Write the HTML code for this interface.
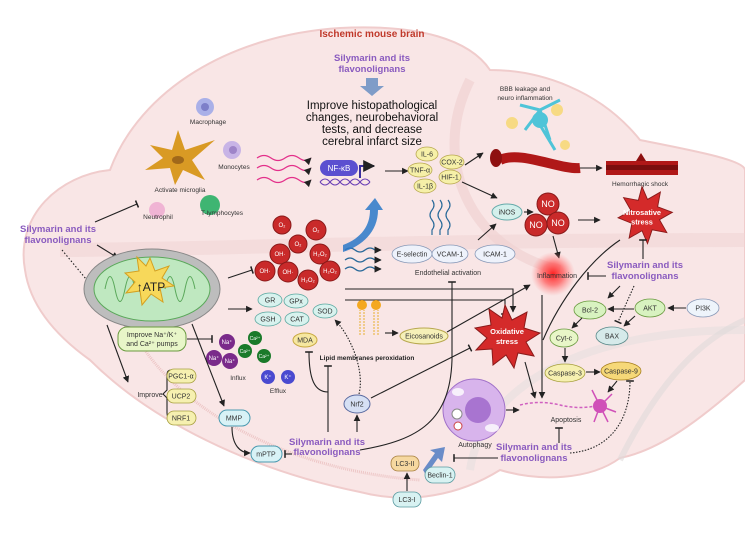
<!DOCTYPE html>
<html><head><meta charset="utf-8"><style>
body{margin:0;background:#fff}
svg{display:block}
text{font-family:"Liberation Sans",sans-serif}
.s{font-size:6.5px;fill:#333;text-anchor:middle}
.p{font-size:9.5px;fill:#8a5bbf;font-weight:bold;text-anchor:middle}
.n{font-size:7px;fill:#333;text-anchor:middle}
.w{font-size:6px;fill:#fff;text-anchor:middle}
.ln{stroke:#222;stroke-width:1.1;fill:none}
</style></head><body>
<svg width="745" height="542" viewBox="0 0 745 542" xmlns="http://www.w3.org/2000/svg">
<defs>
<marker id="a" viewBox="0 0 10 10" refX="9" refY="5" markerWidth="6" markerHeight="6" orient="auto"><path d="M0,0L10,5L0,10z" fill="#222"/></marker>
<marker id="t" viewBox="0 0 10 10" refX="5" refY="5" markerWidth="7" markerHeight="7" orient="auto"><path d="M5,0V10" stroke="#222" stroke-width="2"/></marker>
<radialGradient id="g"><stop offset="0" stop-color="#ff2020"/><stop offset="0.5" stop-color="#ff5050" stop-opacity="0.7"/><stop offset="1" stop-color="#ff8080" stop-opacity="0"/></radialGradient>
</defs>
<!-- brain -->
<path d="M25,270 C15,215 60,175 110,170 C140,90 230,35 340,28 C420,24 470,40 490,70 C540,70 600,90 640,140 C690,150 745,160 745,170 L745,380 C700,420 660,450 620,458 C590,480 540,482 500,470 C460,495 410,505 360,492 C250,470 150,420 90,360 C55,335 30,305 25,270Z" fill="#f9e6e6" stroke="#f0cccc" stroke-width="2"/>
<path d="M470,80 C430,160 470,250 560,270" stroke="#efcfcf" stroke-width="10" fill="none" opacity="0.6"/>
<path d="M60,250 C200,250 400,240 745,240" stroke="#f0d2d2" stroke-width="14" fill="none" opacity="0.5"/>
<path d="M470,470 C480,400 560,330 745,330" stroke="#e6e0e0" stroke-width="8" fill="none" opacity="0.6"/>
<path d="M620,460 C660,380 700,340 745,320" stroke="#e0dada" stroke-width="6" fill="none" opacity="0.6"/>
<path d="M120,300 C150,400 280,470 420,480" stroke="#edc6c6" stroke-width="3" fill="none" stroke-dasharray="1 1"/>

<text x="372" y="37" font-size="10" font-weight="bold" fill="#c0392b" text-anchor="middle">Ischemic mouse brain</text>
<text class="p" x="372" y="61">Silymarin and its</text><text class="p" x="372" y="72">flavonolignans</text>
<path d="M366,78h12v8h6l-12,10l-12,-10h6z" fill="#7f9cc8"/>
<g font-size="11.5" fill="#111" text-anchor="middle"><text x="372" y="109">Improve histopathological</text><text x="372" y="121">changes, neurobehavioral</text><text x="372" y="133">tests, and decrease</text><text x="372" y="145">cerebral infarct size</text></g>

<!-- immune cells -->
<circle cx="205" cy="107" r="9" fill="#aab0e8"/><circle cx="205" cy="107" r="4" fill="#7d7fc9"/>
<text class="s" x="208" y="124">Macrophage</text>
<path d="M178,130 L185,150 L215,140 L192,160 L205,180 L183,170 L175,185 L170,168 L145,170 L163,158 L150,145 L172,150z" fill="#d99a24"/>
<ellipse cx="178" cy="160" rx="6" ry="4" fill="#a0681a"/>
<text class="s" x="180" y="192">Activate microglia</text>
<circle cx="232" cy="150" r="9" fill="#c8b4e6"/><circle cx="233" cy="150" r="4" fill="#9e84c8"/>
<text class="s" x="234" y="169">Monocytes</text>
<circle cx="157" cy="210" r="8" fill="#f0b4d4"/>
<text class="s" x="158" y="219">Neutrophil</text>
<circle cx="210" cy="205" r="10" fill="#3fb572"/>
<text class="s" x="222" y="215">T-lymphocytes</text>

<text class="p" x="58" y="232">Silymarin and its</text><text class="p" x="58" y="243">flavonolignans</text>
<line class="ln" x1="95" y1="222" x2="137" y2="204" marker-end="url(#t)"/>
<line class="ln" x1="97" y1="245" x2="118" y2="258" marker-end="url(#a)"/>
<line class="ln" x1="62" y1="250" x2="125" y2="326" stroke-dasharray="1.5 2" marker-end="url(#a)"/>

<!-- mito -->
<ellipse cx="152" cy="289" rx="68" ry="40" fill="#bdbdbd" stroke="#888"/>
<ellipse cx="152" cy="289" rx="58" ry="32" fill="#bfe8c0" stroke="#5aa85a"/>
<path d="M105,289 q5,-25 10,0 q5,25 10,0 q5,-25 10,0 M165,289 q5,-25 10,0 q5,25 10,0 q5,-25 10,0" stroke="#5aa85a" fill="none"/>
<path d="M150,258 l5,13 14,-5 -7,12 12,8 -14,2 3,14 -12,-8 -9,11 -2,-14 -14,2 9,-11 -10,-9 14,-2 -2,-14 9,9z" fill="#f7d85a" stroke="#d4a020"/>
<text x="151" y="291" font-size="12" fill="#222" text-anchor="middle">↑ATP</text>

<!-- NF-kB -->
<g stroke="#e3308a" stroke-width="1.2" fill="none" marker-end="url(#a)">
<path d="M257,158 q7,-5 14,0 t14,0 t14,0 t12,0"/><path d="M257,168 q7,-5 14,0 t14,0 t14,0 t12,0"/><path d="M257,180 q7,-5 14,0 t14,0 t14,0 t12,0"/></g>
<rect x="320" y="160" width="38" height="16" rx="8" fill="#5b4fd0"/>
<text x="339" y="171" font-size="8" fill="#fff" text-anchor="middle">NF-κB</text>
<path d="M320,182 q5,-6 10,0 t10,0 t10,0 t10,0 t10,0 M320,182 q5,6 10,0 t10,0 t10,0 t10,0 t10,0" stroke="#6a3fb5" fill="none"/>
<path d="M360,178 v-12 h14" stroke="#3a2ea0" stroke-width="2" fill="none" marker-end="url(#a)"/>
<line class="ln" x1="385" y1="171" x2="408" y2="171" marker-end="url(#a)"/>
<g fill="#f6f0a8" stroke="#b8a850" stroke-width="0.8">
<ellipse cx="427" cy="154" rx="11" ry="7"/><ellipse cx="420" cy="170" rx="12" ry="7"/><ellipse cx="425" cy="186" rx="11" ry="7"/><ellipse cx="452" cy="162" rx="12" ry="7"/><ellipse cx="450" cy="177" rx="11" ry="7"/></g>
<g class="n"><text x="427" y="156.5">IL-6</text><text x="420" y="172.5">TNF-α</text><text x="425" y="188.5">IL-1β</text><text x="452" y="164.5">COX-2</text><text x="450" y="179.5">HIF-1</text></g>
<line class="ln" x1="465" y1="165" x2="483" y2="153" marker-end="url(#a)"/>
<line class="ln" x1="462" y1="182" x2="497" y2="198" marker-end="url(#a)"/>

<!-- BBB -->
<text class="s" x="525" y="91">BBB leakage and</text><text class="s" x="525" y="100">neuro inflammation</text>
<path d="M500,160 C520,150 560,170 580,168" stroke="#b01818" stroke-width="10" fill="none"/>
<ellipse cx="496" cy="158" rx="6" ry="9" fill="#8e1010"/>
<path d="M540,110 l-15,20 M540,110 l20,-10 M540,110 l10,30 M540,110 l-20,-5 M540,125 l15,25" stroke="#4fc4d8" stroke-width="3" fill="none"/>
<circle cx="540" cy="120" r="8" fill="#4fc4d8"/>
<circle cx="512" cy="123" r="6" fill="#f6d45a" opacity="0.7"/><circle cx="557" cy="110" r="6" fill="#f6d45a" opacity="0.7"/><circle cx="565" cy="145" r="5" fill="#f6d45a" opacity="0.7"/>
<line class="ln" x1="580" y1="168" x2="602" y2="168" marker-end="url(#a)"/>
<rect x="606" y="161" width="72" height="14" fill="#b01818"/><rect x="606" y="165" width="72" height="5" fill="#7a0e0e"/>
<path d="M636,161 l5,-8 5,8z" fill="#8e1010"/>
<text class="s" x="640" y="186">Hemorrhagic shock</text>

<!-- iNOS / NO -->
<g stroke="#2a6a9a" stroke-width="1.2" fill="none"><path d="M432,200 q4,5 0,10 t0,10 t0,10 v5"/><path d="M440,200 q4,5 0,10 t0,10 t0,10 v5"/><path d="M448,200 q4,5 0,10 t0,10 t0,10 v5"/></g>
<ellipse cx="507" cy="212" rx="15" ry="8" fill="#d4f0ec" stroke="#6aa"/><text class="n" x="507" y="214.5">iNOS</text>
<line class="ln" x1="478" y1="240" x2="496" y2="224" marker-end="url(#a)"/>
<line class="ln" x1="524" y1="212" x2="533" y2="212" marker-end="url(#a)"/>
<g fill="#c92a2a" stroke="#8a1a1a"><circle cx="548" cy="204" r="11"/><circle cx="536" cy="225" r="11"/><circle cx="558" cy="223" r="11"/></g>
<g font-size="9" fill="#fff" text-anchor="middle"><text x="548" y="207">NO</text><text x="536" y="228">NO</text><text x="558" y="226">NO</text></g>
<line class="ln" x1="578" y1="220" x2="600" y2="220" marker-end="url(#a)"/>
<line class="ln" x1="553" y1="236" x2="559" y2="258" marker-end="url(#a)"/>
<g transform="translate(642,216) scale(0.92) translate(-642,-214)">
<path d="M642,182 l6,14 14,-8 -3,16 16,6 -14,8 8,14 -16,-3 -5,15 -6,-14 -14,8 3,-16 -15,-6 14,-8 -8,-14 16,3z" fill="#d42a2a" stroke="#8a1a1a"/>
<text x="642" y="213" font-size="8" fill="#fff" font-weight="bold" text-anchor="middle">Nitrosative</text><text x="642" y="223" font-size="8" fill="#fff" font-weight="bold" text-anchor="middle">stress</text></g>

<!-- endothelial -->
<g fill="#eef2fb" stroke="#8a9ab8" stroke-width="0.8"><ellipse cx="412" cy="254" rx="20" ry="9"/><ellipse cx="450" cy="254" rx="18" ry="9"/><ellipse cx="495" cy="254" rx="20" ry="9"/></g>
<g class="n"><text x="412" y="256.5">E-selectin</text><text x="450" y="256.5">VCAM-1</text><text x="495" y="256.5">ICAM-1</text></g>
<text class="n" x="448" y="275">Endothelial activation</text>
<g stroke="#2a6a9a" stroke-width="1.2" fill="none" marker-end="url(#a)"><path d="M345,250 q5,-4 10,0 t10,0 t10,0 h6"/><path d="M345,260 q5,-4 10,0 t10,0 t10,0 h6"/><path d="M345,269 q5,-4 10,0 t10,0 t10,0 h6"/></g>
<path d="M343,245 C362,238 370,225 370,210 l-5,0 l10,-12 l8,12 l-5,0 C378,232 362,246 343,252z" fill="#2a78c8" opacity="0.85"/>

<!-- ROS -->
<line class="ln" x1="228" y1="278" x2="252" y2="270" marker-end="url(#t)"/>
<g fill="#c92a2a" stroke="#8a1a1a"><circle cx="282" cy="225" r="9"/><circle cx="316" cy="230" r="10"/><circle cx="298" cy="244" r="9"/><circle cx="280" cy="254" r="10"/><circle cx="320" cy="254" r="10"/><circle cx="265" cy="271" r="10"/><circle cx="288" cy="272" r="10"/><circle cx="330" cy="271" r="10"/><circle cx="308" cy="280" r="10"/></g>
<g class="w"><text x="282" y="227">O₂</text><text x="316" y="232">O₂</text><text x="298" y="246">O₂</text><text x="280" y="256">OH·</text><text x="320" y="256">H₂O₂</text><text x="265" y="273">OH·</text><text x="288" y="274">OH·</text><text x="330" y="273">H₂O₂</text><text x="308" y="282">H₂O₂</text></g>

<!-- antioxidants -->
<line class="ln" x1="228" y1="309" x2="252" y2="309" marker-end="url(#a)"/>
<g fill="#d8f2ee" stroke="#5aa8a0" stroke-width="0.8"><ellipse cx="270" cy="300" rx="12" ry="7"/><ellipse cx="296" cy="301" rx="12" ry="7"/><ellipse cx="268" cy="319" rx="13" ry="7"/><ellipse cx="297" cy="319" rx="12" ry="7"/><ellipse cx="325" cy="311" rx="12" ry="7"/></g>
<g class="n"><text x="270" y="302.5">GR</text><text x="296" y="303.5">GPx</text><text x="268" y="321.5">GSH</text><text x="297" y="321.5">CAT</text><text x="325" y="313.5">SOD</text></g>
<ellipse cx="305" cy="340" rx="12" ry="7" fill="#f6e7a0" stroke="#c8a840"/><text class="n" x="305" y="342.5">MDA</text>

<polyline class="ln" points="345,289 513,289 513,312" marker-end="url(#a)"/>
<polyline class="ln" points="345,300 505,300 505,314" marker-end="url(#t)"/>

<!-- lipid -->
<g stroke="#e8b030" stroke-width="1" fill="none"><path d="M360,335 v-25 M364,335 v-25 M374,335 v-25 M378,335 v-25" stroke-dasharray="2 1"/></g>
<circle cx="362" cy="305" r="5" fill="#f4a820"/><circle cx="376" cy="305" r="5" fill="#f4a820"/>
<line class="ln" x1="385" y1="333" x2="398" y2="333" marker-end="url(#a)"/>
<ellipse cx="424" cy="336" rx="24" ry="8" fill="#f6f0b8" stroke="#b8a850"/><text class="n" x="424" y="338.5">Eicosanoids</text>
<text x="367" y="360" font-size="6.5" font-weight="bold" fill="#222" text-anchor="middle">Lipid membranes peroxidation</text>
<line class="ln" x1="447" y1="332" x2="530" y2="285" marker-end="url(#a)"/>

<!-- oxidative star -->
<path d="M505,305 l7,15 15,-8 -3,16 16,5 -14,9 8,14 -16,-3 -4,15 -8,-13 -13,10 -1,-16 -16,1 11,-12 -12,-10 16,-3 -2,-16 13,9z" fill="#d42a2a" stroke="#8a1a1a"/>
<text x="507" y="334" font-size="7.5" fill="#fff" font-weight="bold" text-anchor="middle">Oxidative</text><text x="507" y="344" font-size="7.5" fill="#fff" font-weight="bold" text-anchor="middle">stress</text>

<!-- inflammation -->
<circle cx="553" cy="274" r="22" fill="url(#g)"/>
<text class="n" x="557" y="278">Inflammation</text>
<text class="p" x="645" y="268">Silymarin and its</text><text class="p" x="645" y="279">flavonolignans</text>
<line class="ln" x1="606" y1="276" x2="588" y2="276" marker-end="url(#t)"/>
<line class="ln" x1="643" y1="259" x2="643" y2="240" marker-end="url(#t)"/>
<path d="M543,340 C560,300 590,260 620,240" class="ln"/>
<line class="ln" x1="542" y1="295" x2="542" y2="398" marker-end="url(#a)"/>

<!-- apoptosis pathway -->
<g stroke-width="0.8"><ellipse cx="590" cy="310" rx="16" ry="9" fill="#d8f2c0" stroke="#6a9a40"/><ellipse cx="650" cy="308" rx="15" ry="9" fill="#d8f2c0" stroke="#6a9a40"/><ellipse cx="703" cy="308" rx="16" ry="9" fill="#eef4fb" stroke="#8a9ab8"/><ellipse cx="612" cy="336" rx="16" ry="9" fill="#d6eaea" stroke="#5a8a8a"/><ellipse cx="564" cy="338" rx="14" ry="9" fill="#e8f6c8" stroke="#6a9a40"/><ellipse cx="565" cy="373" rx="20" ry="9" fill="#f6f0b0" stroke="#a8a040"/><ellipse cx="621" cy="371" rx="20" ry="9" fill="#f6d878" stroke="#a88020"/></g>
<g class="n"><text x="590" y="312.5">Bcl-2</text><text x="650" y="310.5">AKT</text><text x="703" y="310.5">PI3K</text><text x="612" y="338.5">BAX</text><text x="564" y="340.5">Cyt-c</text><text x="565" y="375.5">Caspase-3</text><text x="621" y="373.5">Caspase-9</text></g>
<line class="ln" x1="686" y1="308" x2="668" y2="308" marker-end="url(#a)"/>
<line class="ln" x1="634" y1="309" x2="608" y2="309" marker-end="url(#a)"/>
<line class="ln" x1="635" y1="316" x2="624" y2="326" marker-end="url(#a)"/>
<line class="ln" x1="620" y1="286" x2="608" y2="298" marker-end="url(#a)"/>
<line class="ln" x1="634" y1="286" x2="618" y2="322" stroke-dasharray="1.5 1.5" marker-end="url(#t)"/>
<line class="ln" x1="582" y1="318" x2="572" y2="328" marker-end="url(#a)"/>
<line class="ln" x1="565" y1="348" x2="565" y2="362" marker-end="url(#a)"/>
<line class="ln" x1="586" y1="372" x2="600" y2="372" marker-end="url(#a)"/>
<line class="ln" x1="617" y1="381" x2="608" y2="392" marker-end="url(#a)"/>
<line class="ln" x1="525" y1="362" x2="535" y2="398" marker-end="url(#a)"/>
<path d="M520,405 q20,-5 40,0 t40,0" stroke="#d060c0" stroke-width="1.5" fill="none" stroke-dasharray="3 2"/>
<circle cx="600" cy="406" r="7" fill="#d050b8"/>
<path d="M600,406 l-8,-16 M600,406 l12,-12 M600,406 l16,6 M600,406 l8,16 M600,406 l-6,16" stroke="#d050b8" stroke-width="1.5"/>
<text class="n" x="566" y="422" font-size="8">Apoptosis</text>
<line class="ln" x1="559" y1="443" x2="559" y2="428" marker-end="url(#t)"/>
<text class="p" x="534" y="450">Silymarin and its</text><text class="p" x="534" y="461">flavonolignans</text>
<path d="M570,453 C610,450 630,420 630,381" class="ln" stroke-dasharray="1.5 1.5" marker-end="url(#t)"/>

<!-- autophagy -->
<circle cx="474" cy="410" r="31" fill="#d8b4ec" stroke="#a070c8"/>
<circle cx="478" cy="410" r="13" fill="#a874d0"/>
<ellipse cx="458" cy="392" rx="6" ry="4" fill="#fff" opacity="0.8"/><ellipse cx="492" cy="428" rx="7" ry="4" fill="#fff" opacity="0.8"/>
<circle cx="457" cy="414" r="5" fill="#fff" stroke="#888"/><circle cx="458" cy="426" r="4" fill="#fff" stroke="#c44"/>
<text class="n" x="475" y="447">Autophagy</text>
<line class="ln" x1="506" y1="410" x2="519" y2="410" marker-end="url(#a)"/>
<line class="ln" x1="498" y1="458" x2="454" y2="458" marker-end="url(#t)"/>
<path d="M423,470 l12,-17 -5,-3 15,-3 -3,15 -4,-4 -12,17z" fill="#6a8cc8"/>
<g stroke-width="0.8"><rect x="391" y="456" width="28" height="15" rx="7" fill="#f6d8a0" stroke="#a88040"/><rect x="425" y="467" width="30" height="16" rx="8" fill="#d8f2f2" stroke="#5a9aa0"/><rect x="393" y="492" width="28" height="15" rx="7" fill="#d8f2f2" stroke="#5a9aa0"/></g>
<g class="n"><text x="405" y="466">LC3-II</text><text x="440" y="477.5">Beclin-1</text><text x="407" y="502">LC3-I</text></g>
<line class="ln" x1="407" y1="491" x2="407" y2="473" marker-end="url(#a)"/>

<!-- left lower -->
<rect x="118" y="327" width="68" height="24" rx="9" fill="#e8f6c8" stroke="#6a9a40"/>
<text class="n" x="152" y="337">Improve Na⁺/K⁺</text><text class="n" x="152" y="346">and Ca²⁺ pumps</text>
<line class="ln" x1="187" y1="339" x2="212" y2="339" marker-end="url(#t)"/>
<g fill="#7a2a8a"><circle cx="227" cy="342" r="8"/><circle cx="214" cy="358" r="8"/><circle cx="230" cy="361" r="8"/></g>
<g fill="#1a7a2a"><circle cx="255" cy="338" r="7"/><circle cx="245" cy="351" r="7"/><circle cx="264" cy="356" r="7"/></g>
<g class="w"><text x="227" y="344">Na⁺</text><text x="214" y="360">Na⁺</text><text x="230" y="363">Na⁺</text><text x="255" y="340" font-size="5">Ca²⁺</text><text x="245" y="353" font-size="5">Ca²⁺</text><text x="264" y="358" font-size="5">Ca²⁺</text></g>
<text class="s" x="238" y="380">Influx</text>
<g fill="#4a4ad0"><circle cx="268" cy="377" r="7"/><circle cx="288" cy="377" r="7"/></g>
<g class="w"><text x="268" y="379">K⁺</text><text x="288" y="379">K⁺</text></g>
<text class="s" x="278" y="393">Efflux</text>
<line class="ln" x1="107" y1="325" x2="128" y2="382" marker-end="url(#a)"/>
<text class="n" x="150" y="397">Improve</text>
<path d="M171,370 q-4,0 -4,5 v15 l-4,4 4,4 v15 q0,5 4,5" class="ln" stroke-width="0.8"/>
<g fill="#f6f0b0" stroke="#a8a040" stroke-width="0.8"><rect x="167" y="369" width="29" height="14" rx="7"/><rect x="167" y="389" width="29" height="14" rx="7"/><rect x="167" y="411" width="29" height="14" rx="7"/></g>
<g class="n"><text x="181" y="378.5">PGC1-α</text><text x="181" y="398.5">UCP2</text><text x="181" y="420.5">NRF1</text></g>
<line class="ln" x1="192" y1="324" x2="224" y2="406" marker-end="url(#a)"/>
<rect x="219" y="410" width="31" height="16" rx="8" fill="#d8f2f6" stroke="#4a9ab0"/><text class="n" x="234" y="420.5">MMP</text>
<path d="M232,427 C232,445 240,453 250,453" class="ln" marker-end="url(#a)"/>
<rect x="251" y="446" width="31" height="16" rx="8" fill="#d8f2f6" stroke="#4a9ab0"/><text class="n" x="266" y="456.5">mPTP</text>
<text class="p" x="327" y="445">Silymarin and its</text><text class="p" x="327" y="455">flavonolignans</text>
<line class="ln" x1="292" y1="454" x2="285" y2="454" marker-end="url(#t)"/>
<line class="ln" x1="357" y1="432" x2="357" y2="415" marker-end="url(#a)"/>
<ellipse cx="357" cy="404" rx="13" ry="9" fill="#d6e0f4" stroke="#5a6aa0"/><text class="n" x="357" y="406.5">Nrf2</text>
<path d="M359,394 C365,370 350,335 335,320" class="ln" stroke-dasharray="1.5 1.5" marker-end="url(#a)"/>
<line class="ln" x1="371" y1="398" x2="470" y2="348" marker-end="url(#t)"/>
<line class="ln" x1="328" y1="432" x2="328" y2="366" marker-end="url(#t)"/>
<path d="M328,392 C315,392 309,380 309,352" class="ln" marker-end="url(#t)"/>
<path d="M360,450 C420,440 450,420 452,360 L452,282" class="ln" marker-end="url(#t)"/>
</svg>
</body></html>
